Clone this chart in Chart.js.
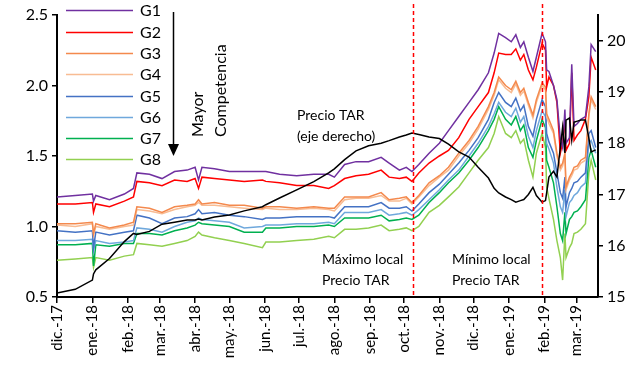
<!DOCTYPE html>
<html lang="es">
<head>
<meta charset="UTF-8">
<title>Precios por grupo y Precio TAR</title>
<script src="https://cdn.jsdelivr.net/npm/chart.js"></script>
<style>
  html, body { margin: 0; padding: 0; background: #fff; }
  #wrap { width: 637px; height: 371px; }
</style>
</head>
<body>
<div id="wrap"><canvas id="chart" width="637" height="371"></canvas></div>
<script>
// days counted from 1 Dec 2017
const days = [0,16,31,32,34,46,59,67,70,81,92,103,114,121,124,127,138,151,164,180,183,195,210,225,238,243,252,262,273,284,291,300,306,311,317,326,335,343,352,361,369,378,383,387,393,398,402,406,409,413,417,420,425,428,429,431,435,438,441,443,445,446,449,451,453,456,459,463,466,468,472];

const g1 = [1.21,1.22,1.23,1.18,1.22,1.19,1.23,1.27,1.38,1.37,1.34,1.39,1.40,1.42,1.33,1.42,1.41,1.39,1.39,1.39,1.39,1.37,1.36,1.37,1.37,1.35,1.44,1.46,1.46,1.49,1.45,1.40,1.42,1.39,1.44,1.52,1.59,1.68,1.78,1.88,1.97,2.09,2.23,2.37,2.34,2.31,2.36,2.27,2.31,2.20,2.10,2.20,2.37,2.31,2.11,2.10,2.00,1.90,1.62,1.56,1.83,1.59,1.63,2.15,1.71,1.73,1.76,1.78,1.99,2.29,2.24];
const g2 = [1.16,1.16,1.17,1.10,1.16,1.14,1.18,1.21,1.32,1.31,1.29,1.33,1.32,1.34,1.27,1.35,1.34,1.33,1.32,1.33,1.32,1.31,1.29,1.29,1.27,1.29,1.34,1.36,1.37,1.40,1.35,1.34,1.35,1.32,1.38,1.45,1.50,1.54,1.63,1.76,1.85,1.95,2.09,2.23,2.22,2.22,2.26,2.18,2.22,2.11,2.04,2.13,2.30,2.25,1.99,2.06,2.00,1.88,1.52,1.60,1.76,1.54,1.59,2.09,1.61,1.65,1.68,1.76,1.92,2.20,2.11];
const g3 = [1.02,1.02,1.03,0.95,1.02,0.99,1.01,1.03,1.14,1.13,1.10,1.14,1.15,1.16,1.19,1.16,1.17,1.15,1.15,1.13,1.14,1.14,1.13,1.14,1.13,1.13,1.21,1.21,1.21,1.24,1.19,1.20,1.21,1.17,1.22,1.31,1.36,1.42,1.52,1.61,1.71,1.85,1.95,2.06,2.00,1.97,2.03,1.95,1.98,1.88,1.79,1.90,2.02,1.99,1.80,1.76,1.68,1.52,1.42,1.45,1.52,1.28,1.35,1.38,1.42,1.43,1.47,1.49,1.80,1.92,1.85];
const g4 = [1.01,1.00,1.02,0.94,1.00,0.98,1.00,1.01,1.12,1.11,1.09,1.12,1.14,1.15,1.17,1.15,1.15,1.14,1.13,1.12,1.13,1.12,1.12,1.13,1.12,1.11,1.19,1.20,1.20,1.22,1.18,1.18,1.20,1.16,1.21,1.29,1.35,1.40,1.50,1.59,1.69,1.83,1.93,2.04,1.98,1.95,2.01,1.93,1.96,1.86,1.77,1.88,2.00,1.97,1.78,1.73,1.66,1.50,1.40,1.43,1.50,1.26,1.33,1.36,1.40,1.41,1.45,1.47,1.78,1.90,1.83];
const g5 = [0.97,0.96,0.97,0.85,0.96,0.94,0.96,0.97,1.08,1.06,1.02,1.06,1.07,1.09,1.12,1.09,1.10,1.08,1.07,1.05,1.06,1.06,1.07,1.07,1.07,1.06,1.14,1.14,1.14,1.17,1.13,1.13,1.14,1.11,1.16,1.24,1.30,1.37,1.45,1.54,1.63,1.76,1.88,1.95,1.88,1.85,1.91,1.82,1.86,1.71,1.64,1.76,1.90,1.85,1.66,1.60,1.52,1.38,1.24,1.20,1.35,1.14,1.24,1.27,1.31,1.32,1.35,1.38,1.66,1.68,1.56];
const g6 = [0.90,0.90,0.91,0.83,0.90,0.88,0.89,0.90,0.99,0.98,0.96,1.00,1.03,1.04,1.06,1.05,1.04,1.03,0.99,1.00,1.01,1.01,1.02,1.02,1.03,1.02,1.10,1.10,1.10,1.12,1.08,1.09,1.10,1.08,1.12,1.19,1.26,1.33,1.40,1.50,1.59,1.71,1.80,1.88,1.81,1.78,1.84,1.74,1.78,1.64,1.56,1.68,1.82,1.78,1.59,1.55,1.45,1.28,1.14,1.10,1.26,1.07,1.17,1.19,1.22,1.24,1.28,1.31,1.59,1.61,1.52];
const g7 = [0.87,0.87,0.88,0.72,0.87,0.86,0.88,0.88,0.95,0.95,0.94,0.97,0.99,1.01,1.03,1.02,1.01,1.00,0.96,0.96,0.99,0.99,1.00,1.00,1.01,1.00,1.06,1.06,1.06,1.08,1.04,1.05,1.06,1.05,1.08,1.17,1.24,1.31,1.38,1.47,1.56,1.68,1.76,1.85,1.76,1.72,1.78,1.68,1.72,1.56,1.49,1.61,1.76,1.70,1.47,1.42,1.31,1.14,0.95,0.90,1.10,0.95,1.05,1.07,1.10,1.11,1.14,1.19,1.49,1.54,1.42];
const g8 = [0.76,0.77,0.78,0.71,0.78,0.76,0.79,0.80,0.88,0.87,0.86,0.88,0.90,0.93,0.96,0.94,0.92,0.90,0.88,0.85,0.89,0.89,0.90,0.91,0.93,0.92,0.98,0.98,0.99,1.01,0.97,0.98,0.99,0.97,1.00,1.10,1.15,1.21,1.28,1.38,1.47,1.56,1.66,1.78,1.66,1.63,1.68,1.59,1.62,1.47,1.35,1.52,1.66,1.56,1.28,1.20,1.05,0.90,0.78,0.62,0.95,0.78,0.85,0.88,0.95,0.96,0.98,1.02,1.38,1.47,1.33];
const tar = [15.08,15.15,15.33,15.45,15.53,15.75,16.08,16.24,16.22,16.28,16.42,16.46,16.50,16.50,16.52,16.50,16.56,16.60,16.68,16.76,16.80,16.93,17.09,17.25,17.42,17.50,17.68,17.85,17.95,18.00,18.05,18.12,18.16,18.20,18.17,18.12,18.09,17.98,17.83,17.73,17.53,17.32,17.12,17.03,16.95,16.90,16.85,16.88,16.90,17.00,17.14,16.98,16.85,16.88,17.03,17.34,17.45,17.34,17.92,18.31,17.81,18.45,18.49,18.06,18.41,18.43,18.45,18.45,18.10,17.83,17.87];

const groupNames = ['G1','G2','G3','G4','G5','G6','G7','G8'];
const groupColors = ['#7030A0','#FF0000','#F4894D','#F8BC93','#4472C4','#6FA8DC','#00B050','#92D050'];
const monthDays = [0,31,62,90,121,151,182,212,243,274,304,335,365,396,427,455];
const monthLabels = ['dic.-17','ene.-18','feb.-18','mar.-18','abr.-18','may.-18','jun.-18','jul.-18','ago.-18','sep.-18','oct.-18','nov.-18','dic.-18','ene.-19','feb.-19','mar.-19'];
const markerDays = [312, 424.5];

const FONT = 'Lato, "Open Sans", sans-serif';
const groups = [g1, g2, g3, g4, g5, g6, g7, g8];
const toXY = arr => days.map((d, i) => ({ x: d, y: arr[i] }));

const datasets = groups.map((arr, i) => ({
    label: groupNames[i],
    data: toXY(arr),
    borderColor: groupColors[i],
    borderWidth: 1.5,
    pointRadius: 0,
    yAxisID: 'y',
    order: 2
}));
datasets.push({
    label: 'Precio TAR',
    data: toXY(tar),
    borderColor: '#000',
    borderWidth: 1.5,
    pointRadius: 0,
    yAxisID: 'y2',
    order: 1
});

const extras = {
    id: 'extras',
    afterDatasetsDraw(chart) {
        const ctx = chart.ctx;
        const area = chart.chartArea;
        const xs = chart.scales.x;
        ctx.save();

        // dashed markers
        ctx.strokeStyle = '#FF0000';
        ctx.lineWidth = 1.5;
        ctx.setLineDash([4, 3]);
        markerDays.forEach(d => {
            const px = Math.round(xs.getPixelForValue(d)) + 0.5;
            ctx.beginPath();
            ctx.moveTo(px, 4);
            ctx.lineTo(px, area.bottom);
            ctx.stroke();
        });
        ctx.setLineDash([]);

        // legend
        ctx.font = '16px ' + FONT;
        ctx.textBaseline = 'middle';
        ctx.textAlign = 'left';
        const legY = [10, 32, 53, 74, 96, 117, 138, 159];
        groupNames.forEach((name, i) => {
            ctx.strokeStyle = groupColors[i];
            ctx.lineWidth = 1.5;
            ctx.beginPath();
            ctx.moveTo(66, legY[i] + 0.5);
            ctx.lineTo(133, legY[i] + 0.5);
            ctx.stroke();
            ctx.fillStyle = '#000';
            ctx.fillText(name, 140, legY[i] + 1);
        });

        // arrow
        ctx.strokeStyle = '#000';
        ctx.lineWidth = 1.5;
        ctx.beginPath();
        ctx.moveTo(173.5, 12);
        ctx.lineTo(173.5, 145);
        ctx.stroke();
        ctx.fillStyle = '#000';
        ctx.beginPath();
        ctx.moveTo(168, 144);
        ctx.lineTo(179, 144);
        ctx.lineTo(173.5, 156);
        ctx.closePath();
        ctx.fill();

        // rotated caption
        ctx.font = '16px ' + FONT;
        ctx.textAlign = 'left';
        ctx.textBaseline = 'middle';
        [['Mayor', 198], ['Competencia', 221]].forEach(([t, x]) => {
            ctx.save();
            ctx.translate(x, 137);
            ctx.rotate(-Math.PI / 2);
            ctx.fillText(t, 0, 0);
            ctx.restore();
        });

        // text notes
        ctx.font = '14px ' + FONT;
        ctx.textBaseline = 'middle';
        ctx.fillText('Precio TAR', 297, 115);
        ctx.fillText('(eje derecho)', 297, 136);
        ctx.fillText('Máximo local', 322, 259);
        ctx.fillText('Precio TAR', 322, 280);
        ctx.fillText('Mínimo local', 452, 259);
        ctx.fillText('Precio TAR', 452, 280);

        ctx.restore();
    }
};

new Chart(document.getElementById('chart'), {
    type: 'line',
    data: { datasets: datasets },
    options: {
        responsive: false,
        animation: false,
        layout: { padding: { top: 15, left: 0, right: 0, bottom: 0 } },
        plugins: { legend: { display: false }, tooltip: { enabled: false } },
        scales: {
            x: {
                type: 'linear',
                min: 0,
                max: 474,
                afterBuildTicks: s => { s.ticks = monthDays.map(v => ({ value: v })); },
                afterFit: s => { s.height = 74; },
                ticks: {
                    autoSkip: false,
                    maxRotation: 90,
                    minRotation: 90,
                    padding: 2,
                    color: '#000',
                    font: { family: FONT, size: 15 },
                    callback: v => monthLabels[monthDays.indexOf(v)]
                },
                grid: { drawOnChartArea: false, drawTicks: true, tickLength: 6, color: '#000', lineWidth: 1.5 },
                border: { color: '#000', width: 2 }
            },
            y: {
                position: 'left',
                min: 0.5,
                max: 2.5,
                afterFit: s => { s.width = 57; },
                ticks: { stepSize: 0.5, padding: 4, color: '#000', font: { family: FONT, size: 16 } },
                grid: { drawOnChartArea: false, drawTicks: true, tickLength: 5, color: '#000', lineWidth: 1.5 },
                border: { color: '#000', width: 2 }
            },
            y2: {
                position: 'right',
                min: 15,
                max: 20.5,
                afterFit: s => { s.width = 39; },
                ticks: { stepSize: 1, includeBounds: false, padding: 4, color: '#000', font: { family: FONT, size: 16 } },
                grid: { drawOnChartArea: false, drawTicks: true, tickLength: 5, color: '#000', lineWidth: 1.5 },
                border: { color: '#000', width: 2 }
            }
        }
    },
    plugins: [extras]
});
</script>
</body>
</html>
